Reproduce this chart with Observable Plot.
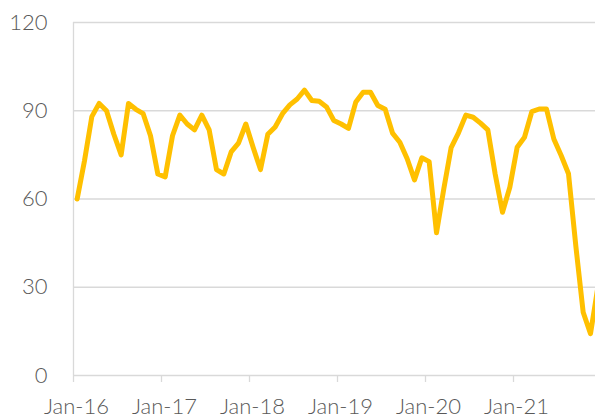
<!DOCTYPE html>
<html><head><meta charset="utf-8">
<script src="https://cdn.jsdelivr.net/npm/d3@7"></script>
<script src="https://cdn.jsdelivr.net/npm/@observablehq/plot@0.6"></script>
<style>html,body{margin:0;padding:0;background:#fff;overflow:hidden} svg{overflow:hidden}</style>
</head><body><div id="chart"></div>
<script>
// Monthly values, Jan-16 … Dec-21
const values = [
  60, 73, 88, 92.5, 90, 82, 75, 92.5, 90.5, 89, 81.5, 68.5,
  67.5, 81.5, 88.5, 85.5, 83.5, 88.5, 83.5, 70, 68.5, 76, 79, 85.5,
  77.5, 70, 82, 84.5, 89, 92, 94, 97, 93.5, 93.2, 91.3, 86.7,
  85.5, 84, 93, 96.3, 96.3, 91.8, 90.5, 82.4, 79.3, 73.7, 66.5, 74,
  72.7, 48.5, 63.5, 77.5, 82.5, 88.5, 87.8, 85.8, 83.5, 68.5, 55.5, 64,
  77.6, 81, 89.7, 90.6, 90.6, 80.4, 74.8, 68.6, 44, 21.5, 14.2, 30
];
const yTicks = [0, 30, 60, 90, 120];
const xTickLabels = ["Jan-16", "Jan-17", "Jan-18", "Jan-19", "Jan-20", "Jan-21"];
const xTickMonths = [0, 12, 24, 36, 48, 60];

const data = values.map((v, i) => ({month: i + 0.5, value: v}));

const chart = Plot.plot({
  width: 595, height: 420,
  marginTop: 22, marginBottom: 45, marginLeft: 73, marginRight: -6,
  style: {fontFamily: "Lato, 'Open Sans', sans-serif", fontSize: "22px", fontWeight: 300, color: "#595959", background: "#fff", overflow: "hidden"},
  x: {domain: [0, 72]},
  y: {domain: [0, 120]},
  marks: [
    Plot.ruleY(yTicks, {x1: 0, x2: 72, stroke: "#d9d9d9", strokeWidth: 1.3}),
    Plot.ruleX([0], {y1: 0, y2: 120, stroke: "#d9d9d9", strokeWidth: 1.3}),
    Plot.axisY({ticks: yTicks, tickSize: 0, tickPadding: 26, label: null}),
    Plot.axisX({ticks: xTickMonths, tickSize: 7, tickFormat: () => "", stroke: "#d9d9d9", strokeWidth: 1.3, strokeOpacity: 1, label: null}),
    Plot.axisX({ticks: xTickMonths, tickSize: 0, tickPadding: 23, dx: 3, tickFormat: d => xTickLabels[xTickMonths.indexOf(d)], label: null}),
    Plot.line(data, {x: "month", y: "value", stroke: "#FFC000", strokeWidth: 5, strokeLinejoin: "round", strokeLinecap: "round"})
  ]
});
document.getElementById("chart").appendChild(chart);
</script>
</body></html>
